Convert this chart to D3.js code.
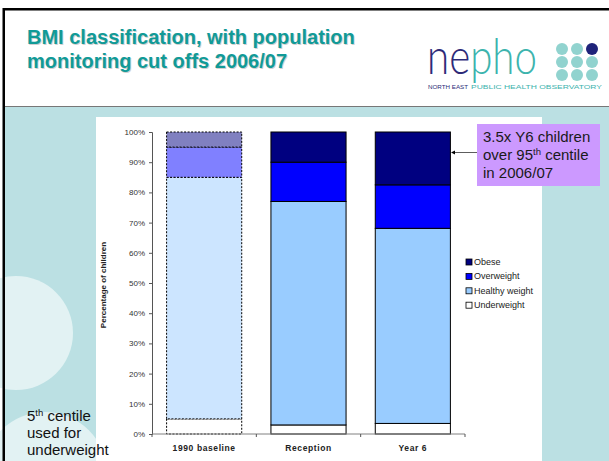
<!DOCTYPE html>
<html><head><meta charset="utf-8">
<script src="https://cdn.jsdelivr.net/npm/d3@7"></script>
<style>body{margin:0;background:#fff}svg{display:block;font-family:"Liberation Sans",Arial,sans-serif}</style>
</head><body><svg id="c" width="609" height="461"></svg>
<script>
const categories = ["1990 baseline", "Reception", "Year 6"];
const underweight = [5, 3, 3.5];
const healthy = [80, 74, 64.6];
const overweight = [10, 13, 14.4];
const obese = [5, 10, 17.5];
const seriesNames = ["Underweight", "Healthy weight", "Overweight", "Obese"];
const yTicks = [0, 10, 20, 30, 40, 50, 60, 70, 80, 90, 100];

const svg = d3.select("#c");
const defs = svg.append("defs");
const grad = defs.append("linearGradient").attr("id","logoGrad").attr("gradientUnits","userSpaceOnUse")
  .attr("x1",427).attr("x2",537).attr("y1",0).attr("y2",0);
grad.append("stop").attr("offset",0.4).attr("stop-color","#2c2a78");
grad.append("stop").attr("offset",0.4).attr("stop-color","#3db3ad");

// slide background
svg.append("rect").attr("x",0).attr("y",0).attr("width",609).attr("height",461).attr("fill","#fff");
svg.append("rect").attr("x",4).attr("y",107).attr("width",605).attr("height",354).attr("fill","#bbe0e3");
// pale circles
svg.append("circle").attr("cx",16).attr("cy",333).attr("r",57).attr("fill","#e2f2f3");
svg.append("circle").attr("cx",45).attr("cy",474).attr("r",62).attr("fill","#e2f2f3");
// header line + borders
svg.append("line").attr("x1",4).attr("x2",609).attr("y1",106.5).attr("y2",106.5).attr("stroke","#777").attr("stroke-width",1);
svg.append("rect").attr("x",3).attr("y",8).attr("width",606).attr("height",2.5).attr("fill","#000");
svg.append("rect").attr("x",2.5).attr("y",8).attr("width",2.5).attr("height",453).attr("fill","#000");
// white chart panel
svg.append("rect").attr("x",96).attr("y",117).attr("width",446).attr("height",344).attr("fill","#fff");

// title
const title = ["BMI classification, with population", "monitoring cut offs 2006/07"];
title.forEach((t,i)=>{
  svg.append("text").attr("x",28).attr("y",45+i*24).attr("font-size",20).attr("font-weight","bold").attr("fill","#d0d0d0").text(t);
  svg.append("text").attr("x",27).attr("y",44+i*24).attr("font-size",20).attr("font-weight","bold").attr("fill","#119a97").text(t);
});

// logo
const logo = svg.append("g");
logo.append("text").attr("x",427).attr("y",74).attr("font-size",50).attr("font-family","Lato").attr("font-weight",300)
  .attr("textLength",110).attr("lengthAdjust","spacingAndGlyphs").attr("fill","url(#logoGrad)").text("nepho");
const dotX=[562,577,592], dotY=[49,62,75];
dotY.forEach((cy,r)=>dotX.forEach((cx,c)=>{
  logo.append("circle").attr("cx",cx).attr("cy",cy).attr("r",6).attr("fill",(r===0&&c===2)?"#1f237a":"#91d3cf");
}));
logo.append("text").attr("x",428).attr("y",89).attr("font-size",4.8).attr("textLength",40).attr("lengthAdjust","spacingAndGlyphs").attr("fill","#2c2a78").text("NORTH EAST");
logo.append("text").attr("x",471).attr("y",89).attr("font-size",4.8).attr("textLength",131).attr("lengthAdjust","spacingAndGlyphs").attr("fill","#3db3ad").text("PUBLIC HEALTH OBSERVATORY");

// chart
const y = d3.scaleLinear().domain([0,100]).range([434,132]);
const x = d3.scaleBand().domain(categories).range([152,465]).paddingInner(0.28).paddingOuter(0.14);
const rows = categories.map((c,i)=>({cat:c, Underweight:underweight[i], "Healthy weight":healthy[i], Overweight:overweight[i], Obese:obese[i]}));
const stack = d3.stack().keys(seriesNames)(rows);
const solidFill = {"Underweight":"#ffffff","Healthy weight":"#99ccff","Overweight":"#0000ff","Obese":"#000080"};
const baseFill = {"Underweight":"#ffffff","Healthy weight":"#cce5ff","Overweight":"#8080ff","Obese":"#8080c0"};

stack.forEach(s=>{
  svg.append("g").selectAll("rect").data(s).join("rect")
    .attr("x",d=>x(d.data.cat)).attr("width",x.bandwidth())
    .attr("y",d=>y(d[1])).attr("height",d=>y(d[0])-y(d[1]))
    .attr("fill",(d,i)=>i===0?baseFill[s.key]:solidFill[s.key])
    .attr("stroke","#000").attr("stroke-width",1)
    .attr("stroke-dasharray",(d,i)=>i===0?"2,1.5":null);
});

// y axis
const yAxis = d3.axisLeft(y).tickValues(yTicks).tickFormat(d=>d+"%").tickSize(3).tickPadding(4);
const ya = svg.append("g").attr("transform","translate(152,0)").call(yAxis);
ya.select(".domain").attr("stroke","#555");
ya.selectAll(".tick line").attr("stroke","#555");
ya.selectAll("text").attr("font-size",8).attr("fill","#333").attr("font-family","Liberation Sans, Arial");

// x axis with boundary ticks
const xa = svg.append("g").attr("transform","translate(0,434)");
xa.append("line").attr("x1",x.range()[0]).attr("x2",x.range()[1]).attr("stroke","#808080");
const bounds = [x.range()[0]].concat(categories.map(c=>x(c)+x.bandwidth()+x.step()*x.paddingInner()/2));
bounds[bounds.length-1] = x.range()[1];
xa.selectAll(".tk").data(bounds).join("line").attr("x1",d=>d).attr("x2",d=>d).attr("y1",0).attr("y2",3).attr("stroke","#555");
xa.selectAll(".lbl").data(categories).join("text")
  .attr("x",d=>x(d)+x.bandwidth()/2).attr("y",17).attr("text-anchor","middle")
  .attr("font-size",8.5).attr("font-weight","bold").attr("letter-spacing",0.6).attr("fill","#222").text(d=>d);

// y label
svg.append("text").attr("transform","translate(106,285) rotate(-90)").attr("text-anchor","middle")
  .attr("font-size",8).attr("font-weight","bold").attr("fill","#222").text("Percentage of children");

// legend
const legendOrder = ["Obese","Overweight","Healthy weight","Underweight"];
const lg = svg.append("g");
legendOrder.forEach((k,i)=>{
  const cy = 262 + i*14.4;
  lg.append("rect").attr("x",466).attr("y",cy-3).attr("width",6).attr("height",6).attr("fill",solidFill[k]).attr("stroke","#000").attr("stroke-width",0.8);
  lg.append("text").attr("x",474).attr("y",cy+3).attr("font-size",9).attr("fill","#222").text(k);
});

// callout
svg.append("rect").attr("x",477).attr("y",124).attr("width",123).attr("height",62).attr("fill","#cc99ff");
const cl = svg.append("g").attr("font-size",15).attr("fill","#1a1a1a");
cl.append("text").attr("x",483).attr("y",142).text("3.5x Y6 children");
const l2 = cl.append("text").attr("x",483).attr("y",160);
l2.append("tspan").text("over 95");
l2.append("tspan").attr("font-size",9.5).attr("dy",-5).text("th");
l2.append("tspan").attr("dy",5).text(" centile");
cl.append("text").attr("x",483).attr("y",178).text("in 2006/07");
svg.append("line").attr("x1",477).attr("x2",453).attr("y1",152.5).attr("y2",152.5).attr("stroke","#333").attr("stroke-width",0.8);
svg.append("path").attr("d","M451,152.5L455,150.5L455,154.5z").attr("fill","#000");

// left note
const nt = svg.append("g").attr("font-size",15).attr("fill","#111");
const n1 = nt.append("text").attr("x",27).attr("y",421);
n1.append("tspan").text("5");
n1.append("tspan").attr("font-size",9.5).attr("dy",-5).text("th");
n1.append("tspan").attr("dy",5).text(" centile");
nt.append("text").attr("x",27).attr("y",438).text("used for");
nt.append("text").attr("x",27).attr("y",455).text("underweight");
</script></body></html>
